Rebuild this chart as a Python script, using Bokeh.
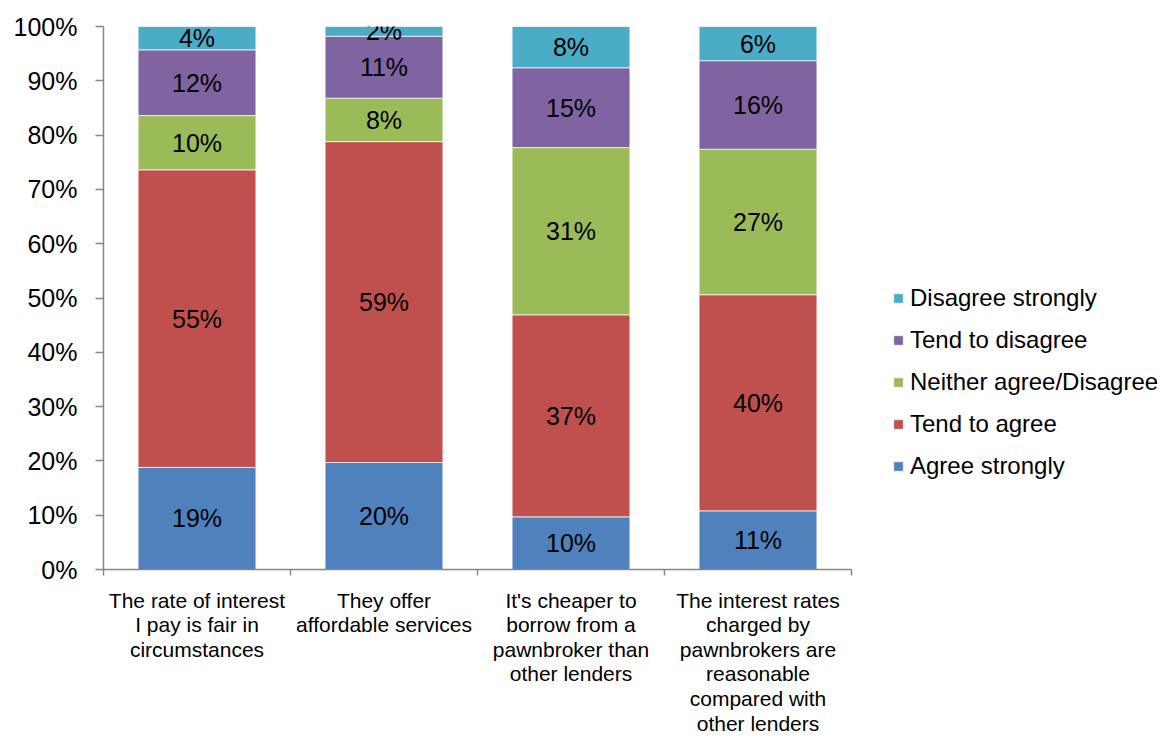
from bokeh.plotting import figure
from bokeh.models import (Range1d, FixedTicker, Legend, LegendItem,
                          ColumnDataSource, PrintfTickFormatter)
from bokeh.embed import file_html
from bokeh.resources import INLINE
from bokeh.core.properties import value

# ---------------- data ----------------
categories = [
    "The rate of interest\nI pay is fair in\ncircumstances",
    "They offer\naffordable services",
    "It's cheaper to\nborrow from a\npawnbroker than\nother lenders",
    "The interest rates\ncharged by\npawnbrokers are\nreasonable\ncompared with\nother lenders",
]
series = ["Agree strongly", "Tend to agree", "Neither agree/Disagree",
          "Tend to disagree", "Disagree strongly"]
agree_strongly = [18.8, 19.7, 9.7, 10.8]
tend_to_agree = [54.8, 59.1, 37.2, 39.8]
neither_agree_disagree = [10.0, 8.0, 30.8, 26.8]
tend_to_disagree = [12.1, 11.4, 14.7, 16.3]
disagree_strongly = [4.3, 1.8, 7.6, 6.3]
colors = ["#4F81BD", "#C0504D", "#9BBB59", "#8064A2", "#4BACC6"]
y_ticks = list(range(0, 101, 10))

values = [agree_strongly, tend_to_agree, neither_agree_disagree,
          tend_to_disagree, disagree_strongly]

FONT = "Liberation Sans"
AXIS_COLOR = "#868686"

n = len(categories)
centers = [i + 0.5 for i in range(n)]
boundaries = list(range(n + 1))

# layout: the frame spans to the right edge so the legend can sit inside it;
# the x axis itself is bounded to the category area.
W, H = 1160, 737
LEFT, TOP, BOTTOM = 103, 26, 167
CAT_PX = 187.0
frame_w = W - LEFT
x_end = frame_w / CAT_PX

p = figure(width=W, height=H, output_backend="svg", toolbar_location=None,
           x_range=Range1d(0, x_end), y_range=Range1d(0, 100),
           min_border_left=LEFT, min_border_right=0,
           min_border_top=TOP, min_border_bottom=BOTTOM)
p.outline_line_color = None
p.xgrid.visible = False
p.ygrid.visible = False
p.background_fill_color = "white"

data = {"x": centers}
keys = []
for s, v in zip(series, values):
    data[s] = v
    keys.append(s)
src = ColumnDataSource(data)

renderers = p.vbar_stack(keys, x="x", width=0.63, fill_color=colors,
                         line_color="white", line_width=0.7, source=src)

# data labels
lx, ly, lt = [], [], []
for i in range(n):
    bottom = 0.0
    for v in values:
        val = v[i]
        lx.append(centers[i])
        ly.append(bottom + val / 2)
        lt.append(f"{val:.0f}%")
        bottom += val
p.text(x="x", y="y", text="t", source=ColumnDataSource(dict(x=lx, y=ly, t=lt)),
       text_align="center", text_baseline="middle",
       text_font=value(FONT), text_font_size="25px", text_color="black")

# x axis
xa = p.xaxis[0]
xa.bounds = (0, n)
xa.ticker = FixedTicker(ticks=centers, minor_ticks=boundaries)
xa.major_label_overrides = {c: lab for c, lab in zip(centers, categories)}
xa.major_tick_line_color = None
xa.minor_tick_in = 0
xa.minor_tick_out = 6
xa.minor_tick_line_color = AXIS_COLOR
xa.minor_tick_line_width = 1.5
xa.axis_line_color = AXIS_COLOR
xa.axis_line_width = 1.5
xa.major_label_text_font = FONT
xa.major_label_text_font_size = "21px"
xa.major_label_text_color = "black"
xa.major_label_text_line_height = 1.07
xa.major_label_standoff = 13

# y axis
ya = p.yaxis[0]
ya.ticker = FixedTicker(ticks=y_ticks, minor_ticks=[])
ya.formatter = PrintfTickFormatter(format="%d%%")
ya.major_tick_in = 0
ya.major_tick_out = 8
ya.major_tick_line_color = AXIS_COLOR
ya.major_tick_line_width = 1.5
ya.minor_tick_line_color = None
ya.axis_line_color = AXIS_COLOR
ya.axis_line_width = 1.5
ya.major_label_text_font = FONT
ya.major_label_text_font_size = "25px"
ya.major_label_text_color = "black"
ya.major_label_standoff = 18

# legend (inside the frame, to the right of the bars)
items = [LegendItem(label=s, renderers=[r]) for s, r in zip(series, renderers)][::-1]
legend = Legend(items=items, location=(789, 82), glyph_width=12, glyph_height=12,
                label_standoff=6, label_height=42, spacing=0, padding=0, margin=0,
                border_line_color=None, background_fill_alpha=0,
                label_text_font=FONT, label_text_font_size="24px",
                label_text_color="black")
p.add_layout(legend)

open("out.html", "w").write(file_html(p, INLINE))
